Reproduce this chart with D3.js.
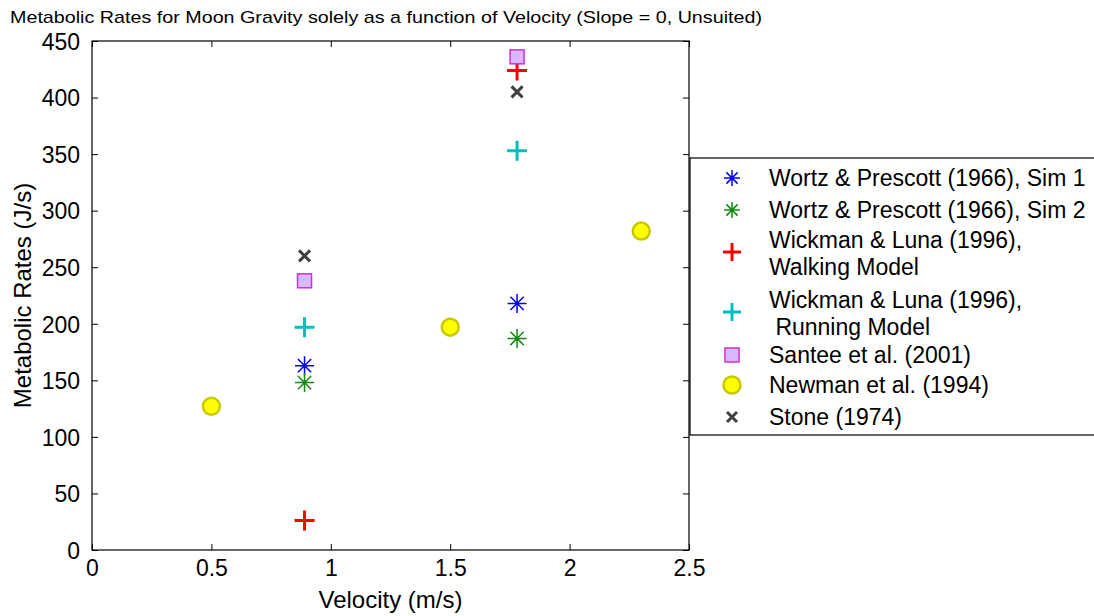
<!DOCTYPE html>
<html><head><meta charset="utf-8">
<script src="https://cdn.jsdelivr.net/npm/d3@7"></script>
<style>body{margin:0;background:#fff}svg{display:block;font-family:"Liberation Sans",Arial,sans-serif}</style>
</head><body><svg id="c" width="1094" height="616"></svg>
<script>
const xTicks = [0, 0.5, 1, 1.5, 2, 2.5];
const yTicks = [0, 50, 100, 150, 200, 250, 300, 350, 400, 450];
const seriesNames = ["Wortz & Prescott (1966), Sim 1", "Wortz & Prescott (1966), Sim 2", "Wickman & Luna (1996),|Walking Model", "Wickman & Luna (1996),| Running Model", "Santee et al. (2001)", "Newman et al. (1994)", "Stone (1974)"];
const sim1 = [[0.89, 163], [1.78, 218]];
const sim2 = [[0.89, 148], [1.78, 187]];
const walking = [[0.89, 26], [1.78, 424]];
const running = [[0.89, 197], [1.78, 353]];
const santee = [[0.89, 238], [1.78, 436]];
const newman = [[0.5, 127], [1.5, 197], [2.3, 282]];
const stone = [[0.89, 260], [1.78, 405]];

const svg = d3.select("#c");
const L = 92, R = 689, T = 41, B = 550;
const x = d3.scaleLinear().domain([0, 2.5]).range([L, R]);
const y = d3.scaleLinear().domain([0, 450]).range([B, T]);

// title
svg.append("text").attr("x", 10).attr("y", 23).attr("font-size", 17).attr("fill", "#000")
  .attr("textLength", 752).attr("lengthAdjust", "spacingAndGlyphs")
  .text("Metabolic Rates for Moon Gravity solely as a function of Velocity (Slope = 0, Unsuited)");

// axes box
svg.append("rect").attr("x", L).attr("y", T).attr("width", R - L).attr("height", B - T)
  .attr("fill", "none").attr("stroke", "#000").attr("stroke-width", 1.2);

const fs = 23;
const gx = svg.append("g").attr("transform", `translate(0,${B})`)
  .call(d3.axisBottom(x).tickValues(xTicks).tickFormat(d3.format("")).tickSizeInner(-6).tickSizeOuter(0).tickPadding(10));
const gxt = svg.append("g").attr("transform", `translate(0,${T})`)
  .call(d3.axisTop(x).tickValues(xTicks).tickFormat("").tickSizeInner(-6).tickSizeOuter(0));
const gy = svg.append("g").attr("transform", `translate(${L},0)`)
  .call(d3.axisLeft(y).tickValues(yTicks).tickFormat(d3.format("")).tickSizeInner(-6).tickSizeOuter(0).tickPadding(12));
const gyr = svg.append("g").attr("transform", `translate(${R},0)`)
  .call(d3.axisRight(y).tickValues(yTicks).tickFormat("").tickSizeInner(-6).tickSizeOuter(0));
[gx, gxt, gy, gyr].forEach(g => {
  g.select(".domain").remove();
  g.selectAll("line").attr("stroke", "#000");
  g.selectAll("text").attr("font-size", fs).attr("font-family", "Liberation Sans, Arial, sans-serif").attr("fill", "#000");
});
gy.selectAll("text").attr("dy", "0.36em");

// axis labels
svg.append("text").attr("x", (L + R) / 2).attr("y", 608).attr("text-anchor", "middle").attr("font-size", 24).text("Velocity (m/s)");
svg.append("text").attr("transform", `translate(31,${(T + B) / 2}) rotate(-90)`).attr("text-anchor", "middle").attr("font-size", 24).text("Metabolic Rates (J/s)");

// marker drawers
function asterisk(g, cx, cy, color, r) {
  const p = `M${cx - r},${cy}H${cx + r}M${cx},${cy - r}V${cy + r}` +
    `M${cx - r * 0.7},${cy - r * 0.7}L${cx + r * 0.7},${cy + r * 0.7}M${cx - r * 0.7},${cy + r * 0.7}L${cx + r * 0.7},${cy - r * 0.7}`;
  g.append("path").attr("d", p).attr("stroke", color).attr("stroke-width", 1.5).attr("fill", "none");
}
function plus(g, cx, cy, color, r) {
  g.append("path").attr("d", `M${cx - r},${cy}H${cx + r}M${cx},${cy - r}V${cy + r}`)
    .attr("stroke", color).attr("stroke-width", 3).attr("fill", "none");
}
function cross(g, cx, cy, color, r) {
  g.append("path").attr("d", `M${cx - r},${cy - r}L${cx + r},${cy + r}M${cx - r},${cy + r}L${cx + r},${cy - r}`)
    .attr("stroke", color).attr("stroke-width", 3).attr("fill", "none");
}
function square(g, cx, cy, r) {
  g.append("rect").attr("x", cx - r).attr("y", cy - r).attr("width", 2 * r).attr("height", 2 * r)
    .attr("fill", "#dab8ff").attr("stroke", "#cc33cc").attr("stroke-width", 1.5);
}
function circle(g, cx, cy, r) {
  g.append("circle").attr("cx", cx).attr("cy", cy).attr("r", r)
    .attr("fill", "#ffff00").attr("stroke", "#c8c800").attr("stroke-width", 2.5);
}

const series = [
  {data: sim1, draw: (g, a, b) => asterisk(g, a, b, "#0000ff", 9.5)},
  {data: sim2, draw: (g, a, b) => asterisk(g, a, b, "#108a10", 9.5)},
  {data: walking, draw: (g, a, b) => plus(g, a, b, "#ff0000", 10)},
  {data: running, draw: (g, a, b) => plus(g, a, b, "#00bfbf", 10)},
  {data: santee, draw: (g, a, b) => square(g, a, b, 7)},
  {data: newman, draw: (g, a, b) => circle(g, a, b, 8.5)},
  {data: stone, draw: (g, a, b) => cross(g, a, b, "#404040", 5.5)}
];
const gm = svg.append("g");
series.forEach(s => s.data.forEach(d => s.draw(gm, x(d[0]), y(d[1]))));

// legend
const lg = svg.append("g");
lg.append("rect").attr("x", 690).attr("y", 158).attr("width", 420).attr("height", 277)
  .attr("fill", "#fff").attr("stroke", "#000").attr("stroke-width", 1.2);
const rowY = [178, 210, 252, 312, 355, 385, 417];
const legendDraw = [
  (g, a, b) => asterisk(g, a, b, "#0000ff", 8),
  (g, a, b) => asterisk(g, a, b, "#108a10", 8),
  (g, a, b) => plus(g, a, b, "#ff0000", 9),
  (g, a, b) => plus(g, a, b, "#00bfbf", 9),
  (g, a, b) => square(g, a, b, 7),
  (g, a, b) => circle(g, a, b, 8.5),
  (g, a, b) => cross(g, a, b, "#404040", 5)
];
seriesNames.forEach((name, i) => {
  legendDraw[i](lg, 732, rowY[i]);
  const lines = name.split("|");
  const t = lg.append("text").attr("font-size", 23).attr("fill", "#000").attr("xml:space", "preserve");
  if (lines.length === 1) {
    t.append("tspan").attr("x", 769).attr("y", rowY[i] + 8).text(lines[0]);
  } else {
    t.append("tspan").attr("x", 769).attr("y", rowY[i] - 4).text(lines[0]);
    t.append("tspan").attr("x", 769).attr("y", rowY[i] + 23).text(lines[1]);
  }
});
</script></body></html>
